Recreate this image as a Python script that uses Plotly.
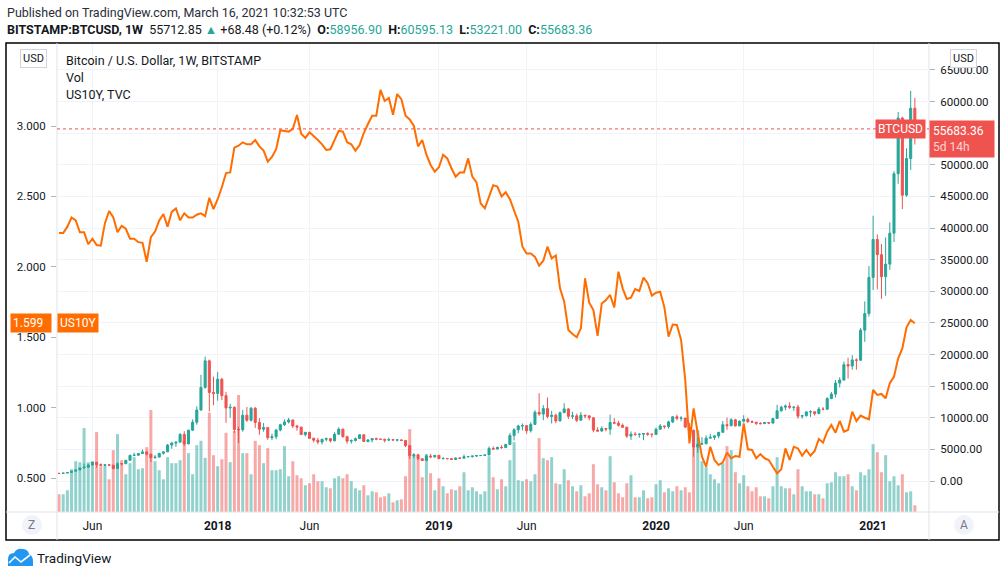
import plotly.graph_objects as go
import pandas as pd

W, H = 1006, 577
GREEN = "#26a69a"
RED = "#ef5350"
ORANGE = "#ff6d00"
TEXT = "#131722"
GRID = "#f0f3fa"
EDGE = "#e0e3eb"

# weekly BTCUSD (Bitstamp), bars start on Monday
first_date = "2017-04-10"
first_open = 1210
btc_close = [
    1195, 1250, 1345, 1555, 1745, 2055, 2190, 2520, 2950, 2590,
    2485, 2560, 2505, 1975, 2750, 2730, 3270, 4050, 4090, 4350,
    4600, 4230, 3700, 3780, 4380, 4610, 5680, 5990, 6140, 7360,
    5860, 8040, 9300, 11230, 14800, 19000, 14000, 13850, 16100, 13500,
    11550, 11650, 8150, 8100, 10400, 9600, 11500, 9250, 8200, 8450,
    6850, 7000, 8050, 8900, 9340, 9650, 8700, 8530, 7350, 7700,
    6750, 6450, 6150, 6600, 6700, 6350, 7400, 8200, 7000, 6300,
    6400, 6700, 7300, 6250, 6500, 6700, 6620, 6590, 6450, 6550,
    6480, 6500, 6400, 5600, 4000, 4150, 3500, 3230, 3950, 3820,
    4060, 3530, 3550, 3530, 3410, 3640, 3600, 3840, 3870, 3950,
    4020, 4030, 4110, 5150, 5050, 5300, 5270, 5780, 7200, 8100,
    8700, 8750, 7950, 8950, 10870, 10580, 11450, 10200, 10400, 9500,
    10800, 11400, 10230, 10300, 9600, 10400, 10300, 10000, 8050, 7900,
    8300, 8200, 9250, 9150, 8800, 8500, 7100, 7400, 7350, 7400,
    7500, 7400, 7350, 8180, 8700, 8600, 9350, 10150, 9900, 9950,
    8520, 8040, 5360, 5830, 5880, 6780, 6900, 7130, 7700, 8900,
    8750, 9670, 8720, 9450, 9750, 9380, 9290, 9120, 9070, 9250,
    9160, 9900, 11100, 11680, 11850, 11650, 11700, 10250, 10330, 10920,
    10950, 10670, 11380, 11350, 13030, 13740, 15480, 15960, 18400, 18180,
    19150, 19100, 23860, 26480, 32200, 38200, 35800, 32300, 34300, 39200,
    48600, 57400, 45200, 51000, 58956.90, 55683.36,
]
btc_high = [
    1215, 1265, 1350, 1600, 1780, 2100, 2760, 2700, 2980, 2985,
    2780, 2610, 2650, 2535, 2920, 2830, 3290, 4180, 4480, 4380,
    4980, 4700, 4350, 4120, 4400, 4620, 5850, 6200, 6200, 7600,
    7880, 8100, 9760, 11800, 16800, 19666, 19200, 16500, 17250, 16300,
    14100, 12200, 11800, 8600, 11250, 11700, 11700, 11700, 9950, 9170,
    8500, 7500, 8250, 9050, 9750, 9980, 9700, 8880, 8550, 7750,
    7750, 6860, 6820, 6600, 6850, 6780, 7700, 8500, 8300, 7150,
    6580, 6880, 7400, 7410, 6600, 6800, 6850, 6700, 6700, 6850,
    6600, 6550, 6600, 6500, 5650, 4400, 4300, 3600, 4200, 4250,
    4100, 4100, 3780, 3650, 3560, 3700, 3720, 4200, 3900, 3970,
    4050, 4080, 4150, 5450, 5470, 5450, 5650, 5870, 7600, 8350,
    8900, 9100, 8800, 9300, 11200, 13880, 12000, 13200, 11100, 10650,
    11000, 12300, 11500, 10950, 10650, 10900, 10450, 10350, 10030, 8500,
    8650, 8400, 10500, 9950, 9500, 9100, 8600, 7850, 7750, 7500,
    7550, 7700, 7500, 8450, 9000, 8750, 9550, 10200, 10500, 10250,
    9950, 9200, 8100, 6900, 6950, 7200, 7450, 7250, 7750, 9480,
    10050, 9950, 9830, 9600, 10400, 9990, 9600, 9380, 9300, 9350,
    9290, 9950, 12050, 11900, 12100, 12450, 11700, 12050, 10450, 11050,
    11190, 10950, 11700, 11700, 13250, 14080, 15970, 16400, 18900, 19500,
    19900, 19400, 24200, 28400, 34000, 41950, 39000, 37500, 38500, 40900,
    49000, 58350, 57600, 52600, 61700, 60595.13,
]
btc_low = [
    1150, 1185, 1240, 1340, 1540, 1730, 2000, 2130, 2510, 2100,
    2470, 2280, 2460, 1830, 1960, 2430, 2660, 3260, 3970, 3950,
    4330, 4050, 2980, 3510, 3760, 4180, 4600, 5100, 5380, 6110,
    5550, 5800, 7900, 8900, 11100, 14600, 11000, 12000, 12700, 12800,
    9200, 10000, 7600, 6000, 7800, 9350, 9400, 8400, 7300, 7800,
    6520, 6450, 6600, 7850, 8700, 9100, 8350, 7950, 7280, 7050,
    6650, 6100, 5800, 5780, 6280, 6080, 6300, 7370, 6880, 5900,
    5900, 6250, 6650, 6200, 6100, 6100, 6450, 6500, 6100, 6400,
    6400, 6250, 6350, 5350, 3500, 3600, 3300, 3150, 3200, 3600,
    3650, 3500, 3450, 3460, 3380, 3370, 3570, 3600, 3700, 3700,
    3800, 3950, 3930, 4100, 4950, 5000, 5100, 5250, 5670, 6400,
    7550, 8000, 7450, 7650, 8900, 10300, 9600, 9900, 9100, 9150,
    9450, 10800, 9800, 9800, 9330, 9600, 9900, 9600, 7700, 7750,
    7800, 7850, 7300, 8970, 8600, 8400, 6800, 6500, 7150, 6850,
    6450, 7150, 6900, 7350, 8100, 8250, 8300, 9150, 9600, 9450,
    8400, 7650, 3850, 4450, 5700, 5850, 6750, 6500, 6750, 7650,
    8100, 8650, 8600, 8650, 9250, 9200, 9200, 8850, 8950, 9050,
    9050, 9100, 9800, 10950, 11200, 11400, 11100, 9850, 9850, 10200,
    10150, 10350, 10550, 11200, 11250, 12950, 13200, 14800, 15900, 16200,
    17600, 17600, 19000, 22000, 26000, 30200, 30300, 28800, 29300, 33400,
    37800, 47000, 43000, 44950, 49200, 53221.00,
]
# weekly volume, thousand BTC
btc_volume = [
    53, 53, 65, 128, 152, 149, 251, 149, 152, 239,
    137, 137, 98, 185, 233, 155, 113, 146, 164, 128,
    131, 194, 305, 152, 125, 98, 164, 146, 146, 155,
    212, 176, 113, 200, 213, 162, 297, 170, 137, 158,
    237, 149, 242, 350, 176, 176, 113, 213, 200, 146,
    191, 125, 125, 128, 197, 107, 152, 110, 101, 80,
    86, 113, 92, 92, 74, 71, 101, 107, 101, 113,
    92, 71, 65, 80, 50, 62, 59, 44, 47, 56,
    29, 35, 38, 107, 248, 170, 158, 104, 173, 116,
    65, 101, 77, 56, 68, 65, 77, 119, 65, 74,
    62, 53, 62, 167, 104, 68, 98, 77, 155, 209,
    95, 92, 98, 92, 113, 221, 161, 155, 164, 86,
    83, 128, 95, 77, 62, 80, 47, 56, 143, 83,
    74, 65, 167, 89, 56, 44, 86, 110, 44, 44,
    65, 41, 44, 83, 95, 59, 71, 62, 77, 65,
    74, 59, 197, 245, 152, 134, 113, 98, 86, 146,
    197, 185, 119, 86, 110, 77, 62, 74, 47, 47,
    41, 77, 164, 77, 71, 71, 53, 128, 77, 62,
    62, 53, 53, 41, 86, 89, 119, 107, 107, 113,
    77, 65, 119, 110, 128, 203, 179, 119, 170, 92,
    107, 80, 113, 59, 62, 20,
]
# US 10Y yield (TVC), weekly, %
us10y = [
    2.240, 2.240, 2.285, 2.350, 2.330, 2.245, 2.245, 2.160, 2.200, 2.155,
    2.150, 2.310, 2.396, 2.350, 2.245, 2.290, 2.270, 2.200, 2.200, 2.175,
    2.170, 2.036, 2.210, 2.250, 2.330, 2.375, 2.285, 2.390, 2.415, 2.330,
    2.380, 2.350, 2.350, 2.370, 2.380, 2.360, 2.490, 2.410, 2.480, 2.565,
    2.666, 2.670, 2.846, 2.860, 2.884, 2.870, 2.870, 2.900, 2.855, 2.825,
    2.747, 2.780, 2.835, 2.970, 2.965, 2.960, 2.980, 3.078, 2.945, 2.915,
    2.955, 2.930, 2.900, 2.870, 2.830, 2.835, 2.900, 2.965, 2.960, 2.885,
    2.870, 2.825, 2.865, 2.950, 3.014, 3.073, 3.073, 3.256, 3.178, 3.200,
    3.080, 3.227, 3.190, 3.073, 3.047, 3.000, 2.855, 2.900, 2.796, 2.723,
    2.676, 2.707, 2.796, 2.770, 2.700, 2.640, 2.670, 2.670, 2.770, 2.640,
    2.600, 2.450, 2.415, 2.500, 2.580, 2.570, 2.500, 2.530, 2.480, 2.400,
    2.320, 2.143, 2.095, 2.095, 2.070, 2.008, 2.043, 2.143, 2.060, 2.080,
    1.847, 1.752, 1.551, 1.523, 1.500, 1.563, 1.918, 1.745, 1.693, 1.509,
    1.740, 1.764, 1.800, 1.712, 1.965, 1.847, 1.771, 1.780, 1.842, 1.828,
    1.923, 1.883, 1.795, 1.816, 1.823, 1.712, 1.504, 1.590, 1.587, 1.480,
    1.196, 0.746, 0.995, 0.817, 0.651, 0.580, 0.722, 0.628, 0.592, 0.611,
    0.680, 0.640, 0.656, 0.651, 0.888, 0.704, 0.699, 0.640, 0.670, 0.640,
    0.628, 0.580, 0.533, 0.562, 0.710, 0.628, 0.722, 0.710, 0.658, 0.699,
    0.658, 0.692, 0.777, 0.751, 0.829, 0.876, 0.822, 0.905, 0.829, 0.841,
    0.971, 0.905, 0.943, 0.928, 0.917, 1.125, 1.090, 1.097, 1.066, 1.173,
    1.220, 1.350, 1.420, 1.570, 1.622, 1.599,
]

tick_dates = ["2017-06-05", "2018-01-01", "2018-06-04", "2019-01-07",
              "2019-06-03", "2020-01-06", "2020-06-01", "2021-01-04"]
tick_text = ["Jun", "<b>2018</b>", "Jun", "<b>2019</b>",
             "Jun", "<b>2020</b>", "Jun", "<b>2021</b>"]
btc_ticks = list(range(0, 65001, 5000))
us_ticks = [0.5, 1.0, 1.5, 2.0, 2.5, 3.0]

dates = pd.date_range(first_date, periods=len(btc_close), freq="7D")
btc_open = [first_open] + btc_close[:-1]
vol_colors = ["rgba(38,166,154,0.5)" if c >= o else "rgba(239,83,80,0.5)"
              for o, c in zip(btc_open, btc_close)]
# the tick label hidden under the last-price box stays blank
btc_ticktext = ["" if abs(v - btc_close[-1]) < 3000 else f"{v:.2f}"
                for v in btc_ticks]


def px(x):
    return x / W


def py(y):
    return 1 - y / H


fig = go.Figure()

fig.add_trace(go.Bar(
    x=dates, y=btc_volume, yaxis="y",
    marker=dict(color=vol_colors, line=dict(width=0)),
    width=7 * 0.72 * 86400000,
    hoverinfo="skip",
))
fig.add_trace(go.Candlestick(
    x=dates, open=btc_open, high=btc_high, low=btc_low, close=btc_close,
    yaxis="y2",
    increasing=dict(line=dict(color=GREEN, width=1), fillcolor=GREEN),
    decreasing=dict(line=dict(color=RED, width=1), fillcolor=RED),
    hoverinfo="skip",
))
fig.add_trace(go.Scatter(
    x=dates, y=us10y, yaxis="y3", mode="lines",
    line=dict(color=ORANGE, width=2),
    hoverinfo="skip",
))

x_start = dates[0] - pd.Timedelta(days=3.4)
x_end = dates[0] + pd.Timedelta(days=1458.7)

fig.update_layout(
    width=W, height=H,
    margin=dict(l=0, r=0, t=0, b=0),
    paper_bgcolor="white", plot_bgcolor="white",
    showlegend=False,
    font=dict(family="Roboto", size=12, color=TEXT),
    xaxis=dict(
        domain=[px(57), px(929)], range=[x_start, x_end], type="date",
        tickvals=tick_dates, ticktext=tick_text,
        showgrid=True, gridcolor=GRID, gridwidth=1,
        ticks="", showline=False, zeroline=False,
        rangeslider=dict(visible=False),
        tickfont=dict(size=12, color=TEXT), ticklabelstandoff=5,
    ),
    yaxis=dict(domain=[py(512), py(44)], range=[0, max(btc_volume) * 4.0],
               visible=False),
    yaxis2=dict(
        overlaying="y", side="right", anchor="x",
        range=[-4903, 69110], tickvals=btc_ticks, ticktext=btc_ticktext,
        showgrid=True, gridcolor=GRID, gridwidth=1, zeroline=False,
        ticks="outside", ticklen=5, tickcolor="#b2b5be",
        tickfont=dict(size=11.5, color=TEXT), ticklabelstandoff=3,
    ),
    yaxis3=dict(
        overlaying="y", side="left", anchor="x",
        range=[0.2585, 3.5824], tickvals=us_ticks, tickformat=".3f",
        showgrid=False, zeroline=False,
        ticks="outside", ticklen=5, tickcolor="#b2b5be",
        tickfont=dict(size=11.5, color=TEXT), ticklabelstandoff=3,
    ),
)

shapes = [
    # outer frame
    dict(type="rect", xref="paper", yref="paper", x0=px(6), x1=px(999),
         y0=py(540), y1=py(43), line=dict(color="#000000", width=1.5)),
    # axis separators
    dict(type="line", xref="paper", yref="paper", x0=px(57), x1=px(57),
         y0=py(540), y1=py(43), line=dict(color=EDGE, width=1)),
    dict(type="line", xref="paper", yref="paper", x0=px(929), x1=px(929),
         y0=py(540), y1=py(43), line=dict(color=EDGE, width=1)),
    dict(type="line", xref="paper", yref="paper", x0=px(6), x1=px(999),
         y0=py(512), y1=py(512), line=dict(color=EDGE, width=1)),
    # last price line
    dict(type="line", xref="paper", yref="y2", x0=px(57), x1=px(929),
         y0=btc_close[-1], y1=btc_close[-1],
         line=dict(color=RED, width=1, dash="dot")),
    # Z / A buttons
    dict(type="circle", xref="paper", yref="paper", x0=px(22), x1=px(42),
         y0=py(535), y1=py(515), fillcolor="#f0f3fa", line=dict(width=0)),
    dict(type="circle", xref="paper", yref="paper", x0=px(954), x1=px(974),
         y0=py(535), y1=py(515), fillcolor="#f0f3fa", line=dict(width=0)),
]

# TradingView logo
cloud = (f"M {px(8)},{py(566)} L {px(8)},{py(559)} "
         f"Q {px(8)},{py(553)} {px(14)},{py(553)} "
         f"Q {px(17)},{py(548)} {px(22)},{py(549)} "
         f"Q {px(28)},{py(549)} {px(29)},{py(554)} "
         f"Q {px(33)},{py(556)} {px(33)},{py(561)} "
         f"L {px(33)},{py(566)} Z")
zig = (f"M {px(9)},{py(563)} L {px(15)},{py(557)} "
       f"L {px(21)},{py(562)} L {px(30)},{py(555)}")
shapes.append(dict(type="path", xref="paper", yref="paper", path=cloud,
                   fillcolor="#2196f3", line=dict(width=0)))
shapes.append(dict(type="path", xref="paper", yref="paper", path=zig,
                   line=dict(color="white", width=1.6)))
fig.update_layout(shapes=shapes)


def txt(x, y, s, size=12, color=TEXT, anchor="left", **kw):
    return dict(x=px(x), y=py(y), xref="paper", yref="paper", text=s,
                showarrow=False, xanchor=anchor, yanchor="middle",
                font=dict(size=size, color=color, family="Roboto"), **kw)


def teal(s):
    return f"<span style='color:{GREEN}'>{s}</span>"


header2 = (
    "<b>BITSTAMP:BTCUSD, 1W</b>  55712.85 " + teal("▲") + " +68.48 (+0.12%)  "
    + "<b>O:</b>" + teal(f"{btc_open[-1]:.2f}")
    + "  <b>H:</b>" + teal(f"{btc_high[-1]:.2f}")
    + "  <b>L:</b>" + teal(f"{btc_low[-1]:.2f}")
    + "  <b>C:</b>" + teal(f"{btc_close[-1]:.2f}")
)

annotations = [
    txt(5, 12, "Published on TradingView.com, March 16, 2021 10:32:53 UTC",
        size=12.5, color="#2a2e39"),
    txt(5, 29, header2, size=12.5),
    txt(64, 60, "Bitcoin / U.S. Dollar, 1W, BITSTAMP", size=12.5),
    txt(64, 78, "Vol", size=12.5),
    txt(64, 95, "US10Y, TVC", size=12.5),
    txt(33, 58, "USD", size=11, anchor="center", bordercolor="#d1d4dc",
        borderwidth=1, borderpad=2, bgcolor="white"),
    txt(963, 58, "USD", size=11, anchor="center", bordercolor="#d1d4dc",
        borderwidth=1, borderpad=2, bgcolor="white"),
    txt(32, 525, "Z", size=12, color="#787b86", anchor="center"),
    txt(964, 525, "A", size=12, color="#787b86", anchor="center"),
    txt(35, 558, "TradingView", size=13.5, color=TEXT),
    # BTC last price tag + axis label
    dict(x=px(926), y=btc_close[-1], xref="paper", yref="y2",
         text="BTCUSD", showarrow=False, xanchor="right", yanchor="middle",
         font=dict(size=12, color="white", family="Roboto"),
         bgcolor=RED, borderpad=2),
    dict(x=px(929), y=btc_close[-1], xref="paper", yref="y2",
         text=f"{btc_close[-1]:.2f}<br><span style='color:#fbd5d4'>5d 14h</span>",
         showarrow=False, xanchor="left", yanchor="top", yshift=9,
         align="left", width=58,
         font=dict(size=12, color="white", family="Roboto"),
         bgcolor=RED, borderpad=3),
    # US10Y last value tag + axis label
    dict(x=px(57), y=us10y[-1], xref="paper", yref="y3",
         text="US10Y", showarrow=False, xanchor="left", yanchor="middle",
         font=dict(size=12, color="white", family="Roboto"),
         bgcolor=ORANGE, borderpad=2),
    dict(x=px(52), y=us10y[-1], xref="paper", yref="y3",
         text=f"{us10y[-1]:.3f}", showarrow=False, xanchor="right",
         yanchor="middle", width=36, align="left",
         font=dict(size=12, color="white", family="Roboto"),
         bgcolor=ORANGE, borderpad=2),
]
fig.update_layout(annotations=annotations)

fig.write_html("out.html", config={"displayModeBar": False},
               post_script="document.body.style.margin='0';")
